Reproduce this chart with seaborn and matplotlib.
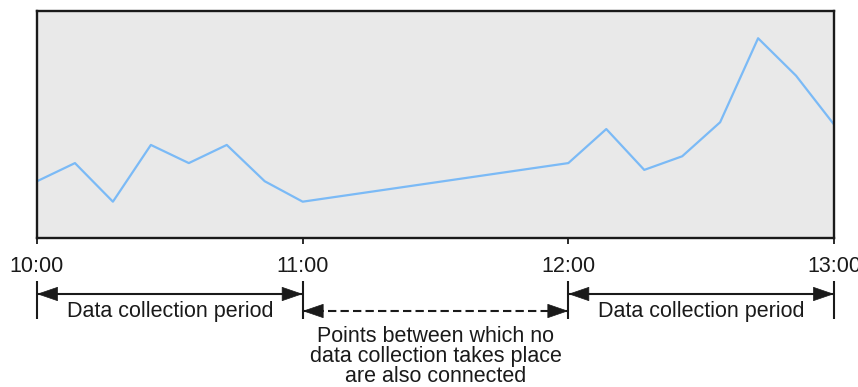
import matplotlib
matplotlib.use("Agg")
import matplotlib.pyplot as plt
import seaborn as sns
import pandas as pd

# Sample times (hours) and values for the two collection windows
hours_first = [10 + k / 7 for k in range(8)]
values_first = [25, 33, 16, 41, 33, 41, 25, 16]
hours_second = [12 + k / 7 for k in range(8)]
values_second = [33, 48, 30, 36, 51, 88, 71.5, 50]

tick_hours = [10, 11, 12, 13]
tick_labels = ["10:00", "11:00", "12:00", "13:00"]

period_label = "Data collection period"
gap_label = "Points between which no\ndata collection takes place\nare also connected"

sns.set_theme(style="white")
plt.rcParams["font.family"] = ["Liberation Sans", "DejaVu Sans"]

df = pd.DataFrame({
    "hour": hours_first + hours_second,
    "value": values_first + values_second,
})

fig = plt.figure(figsize=(8.58, 3.87), dpi=100)
ax = fig.add_axes([37 / 858, 1 - 238 / 387, (834 - 37) / 858, (238 - 11) / 387])

sns.lineplot(data=df, x="hour", y="value", ax=ax, color="#7bbaf6", linewidth=1.6)

ax.set_facecolor("#e9e9e9")
ax.set_xlim(10, 13)
ax.set_ylim(0, 100)
ax.set_xlabel("")
ax.set_ylabel("")
ax.set_yticks([])
ax.set_xticks(tick_hours)
ax.set_xticklabels(tick_labels, fontsize=15.5, color="#1a1a1a")
ax.tick_params(axis="x", bottom=True, length=4.5, width=1.3, color="#1a1a1a", pad=8.5)
for s in ax.spines.values():
    s.set_visible(True)
    s.set_linewidth(1.7)
    s.set_color("#1a1a1a")

trans = ax.get_xaxis_transform()
px = 1 / 227  # one pixel in axes-fraction units (vertical)


def yfrac(ypix):
    return (238 - ypix) * px


# Vertical boundary markers under each hour
for h in tick_hours:
    ax.plot([h, h], [yfrac(281), yfrac(319)], transform=trans, color="#1a1a1a",
            lw=1.5, clip_on=False, solid_capstyle="butt")

head = "-|>,head_length=14,head_width=4.8"


def span_arrow(x0, x1, ypix, dashed=False):
    y = yfrac(ypix)
    ax.plot([x0, x1], [y, y], transform=trans, color="#1a1a1a", lw=1.5,
            linestyle=(0, (4, 2)) if dashed else "-", clip_on=False)
    for tip, off in ((x0, 14.5), (x1, -14.5)):
        ax.annotate("", xy=(tip, y), xycoords=trans,
                    xytext=(off, 0), textcoords="offset points",
                    arrowprops=dict(arrowstyle=head, mutation_scale=1, lw=0.5,
                                    color="#1a1a1a", shrinkA=0, shrinkB=0),
                    annotation_clip=False)


span_arrow(10, 11, 294)
span_arrow(11, 12, 311, dashed=True)
span_arrow(12, 13, 294)

for a, b in ((10, 11), (12, 13)):
    ax.text((a + b) / 2, yfrac(311), period_label, transform=trans, ha="center",
            va="center", fontsize=15.5, color="#1a1a1a", clip_on=False)

for i, line in enumerate(gap_label.split("\n")):
    ax.text(11.5, yfrac(336 + 20.5 * i), line, transform=trans, ha="center",
            va="center", fontsize=15.5, color="#1a1a1a", clip_on=False)

fig.savefig("out.png", dpi=100)
